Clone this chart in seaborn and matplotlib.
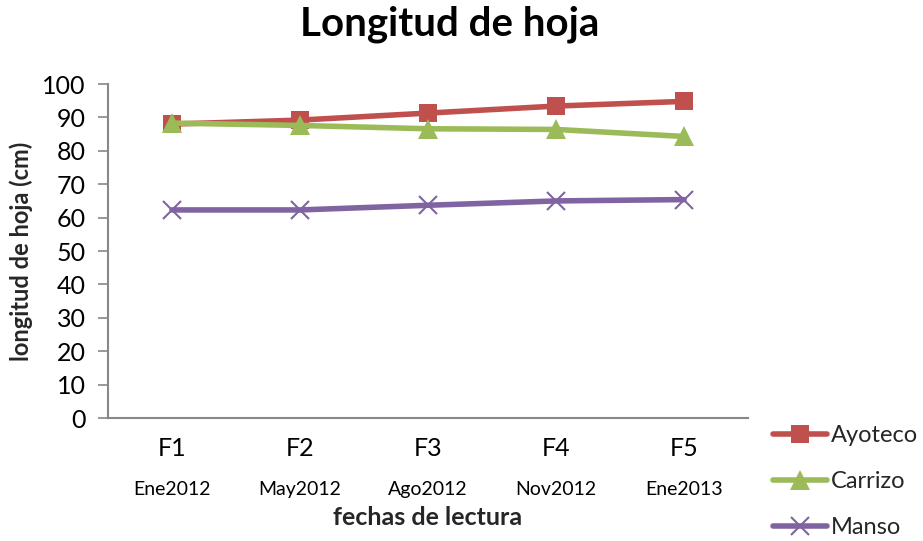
import matplotlib
matplotlib.use("Agg")
import matplotlib.pyplot as plt
import seaborn as sns
import pandas as pd
from matplotlib.lines import Line2D
import matplotlib.transforms as mtransforms

fechas = ["F1", "F2", "F3", "F4", "F5"]
meses = ["Ene2012", "May2012", "Ago2012", "Nov2012", "Ene2013"]
ayoteco = [88.0, 89.2, 91.3, 93.4, 94.8]
carrizo = [88.3, 87.6, 86.6, 86.4, 84.3]
manso = [62.3, 62.3, 63.7, 65.0, 65.4]
series_names = ["Ayoteco", "Carrizo", "Manso"]
y_ticks = list(range(0, 101, 10))

colors = {"Ayoteco": "#C0504D", "Carrizo": "#9BBB59", "Manso": "#8064A2"}
markers = {"Ayoteco": "s", "Carrizo": "^", "Manso": "x"}
msizes = {"Ayoteco": 13, "Carrizo": 14, "Manso": 13}

df = pd.DataFrame({
    "fecha": fechas * 3,
    "valor": ayoteco + carrizo + manso,
    "serie": ["Ayoteco"] * 5 + ["Carrizo"] * 5 + ["Manso"] * 5,
})

sns.set_theme(style="white")
plt.rcParams["font.family"] = ["Lato", "DejaVu Sans"]

fig = plt.figure(figsize=(9.23, 5.41), dpi=100)
ax = fig.add_axes([0.117, 0.2273, 0.6935, 0.6174])

for name in series_names:
    sub = df[df["serie"] == name]
    sns.lineplot(data=sub, x="fecha", y="valor", ax=ax, color=colors[name],
                 linewidth=4, marker=markers[name], markersize=msizes[name],
                 markeredgewidth=1.5 if name == "Manso" else 0,
                 markeredgecolor=colors[name], legend=False, sort=False)

ax.set_xlim(-0.5, 4.5)
ax.set_ylim(0, 100)
ax.set_yticks(y_ticks)
ax.set_yticklabels([str(v) for v in y_ticks], fontsize=18, color="black")
ax.set_xticks(range(len(fechas)))
ax.set_xticklabels(fechas, fontsize=18, color="black")
ax.tick_params(axis="x", length=0, pad=14)
ax.tick_params(axis="y", length=7, width=1.2, color="#888888", direction="out", left=True, pad=9)

for s in ["top", "right"]:
    ax.spines[s].set_visible(False)
for s in ["left", "bottom"]:
    ax.spines[s].set_color("#888888")
    ax.spines[s].set_linewidth(1.5)

trans = mtransforms.blended_transform_factory(ax.transData, ax.transAxes)
for i, m in enumerate(meses):
    ax.text(i, -0.213, m, transform=trans, ha="center", va="center", fontsize=14, color="black")

ax.set_xlabel("fechas de lectura", fontsize=18, fontweight="bold", labelpad=33)
ax.set_ylabel("longitud de hoja (cm)", fontsize=17, fontweight="bold", labelpad=7)
fig.text(0.4875, 0.935, "Longitud de hoja", fontsize=29, fontweight="bold",
         ha="center", va="baseline", color="black")

handles = [Line2D([0], [0], color=colors[n], linewidth=4, marker=markers[n],
                  markersize=msizes[n], markeredgewidth=1.5 if n == "Manso" else 0,
                  markeredgecolor=colors[n]) for n in series_names]
leg = fig.legend(handles, series_names, loc="center left", bbox_to_anchor=(0.815, 0.11),
                 frameon=False, fontsize=17, handlelength=2.25, handletextpad=0.2,
                 labelspacing=1.05)

fig.savefig("out.png", dpi=100)
